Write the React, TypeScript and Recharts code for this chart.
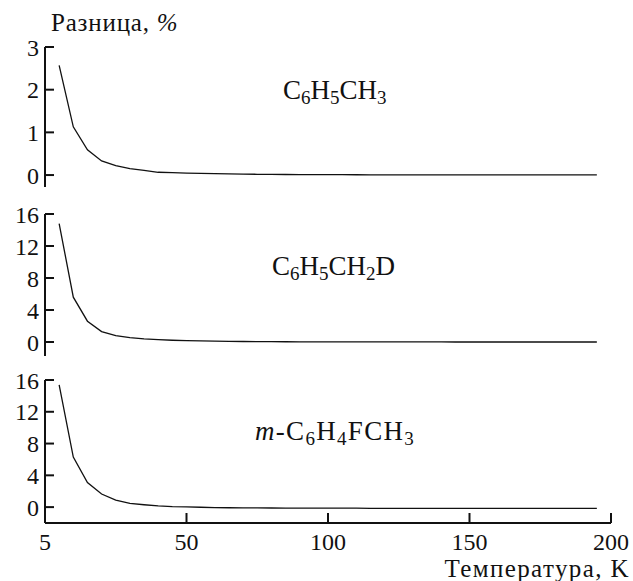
import { LineChart, Line, XAxis, YAxis } from 'recharts';

// temperature grid, K
const temps = [
  5, 10, 15, 20, 25, 30, 35, 40, 45, 50, 55, 60, 65, 70, 75, 80, 85, 90, 95, 100,
  105, 110, 115, 120, 125, 130, 135, 140, 145, 150, 155, 160, 165, 170, 175, 180, 185, 190, 195,
];

// difference, %
const tolueneDiff = [
  2.57, 1.13, 0.59, 0.33, 0.22, 0.15, 0.11, 0.065, 0.055, 0.045, 0.038, 0.032, 0.027, 0.022, 0.018, 0.015,
  0.013, 0.011, 0.01, 0.009, 0.008, 0.007, 0.006, 0.006, 0.005, 0.005, 0.004, 0.004, 0.004, 0.003, 0.003,
  0.003, 0.003, 0.002, 0.002, 0.002, 0.002, 0.002, 0.002,
];
const toluene1dDiff = [
  14.8, 5.6, 2.6, 1.3, 0.8, 0.55, 0.4, 0.3, 0.22, 0.17, 0.13, 0.1, 0.08, 0.06, 0.05, 0.04, 0.03, 0.02,
  0.015, 0.01, 0.01, 0.008, 0.007, 0.006, 0.005, 0.005, 0.004, 0.004, 0.003, 0.003, 0.003, 0.002, 0.002,
  0.002, 0.002, 0.001, 0.001, 0.001, 0.001,
];
const fluorotolueneDiff = [
  15.4, 6.3, 3.1, 1.65, 0.88, 0.46, 0.3, 0.15, 0.07, 0.03, -0.02, -0.06, -0.08, -0.09, -0.1, -0.11, -0.12,
  -0.13, -0.13, -0.14, -0.14, -0.14, -0.15, -0.15, -0.15, -0.15, -0.15, -0.16, -0.16, -0.16, -0.16, -0.16,
  -0.16, -0.16, -0.17, -0.17, -0.17, -0.17, -0.17,
];

const smallTicks = [0, 1, 2, 3];
const bigTicks = [0, 4, 8, 12, 16];
const tempTicks = [0, 50, 100, 150, 200];

const FONT = "'Liberation Serif', 'Times New Roman', Times, serif";
const INK = '#111';

const toRows = (vals: number[]) => temps.map((t, i) => ({ t, v: vals[i] }));

const tickStyle = { fill: INK, fontSize: 24, fontFamily: FONT };

type PanelProps = {
  values: number[];
  domain: [number, number];
  ticks: number[];
  top: number;
  height: number;
  margin: { top: number; right: number; bottom: number; left: number };
  showX?: boolean;
};

function Panel({ values, domain, ticks, top, height, margin, showX }: PanelProps) {
  return (
    <div style={{ position: 'absolute', left: 0, top }}>
      <LineChart
        width={633}
        height={height}
        data={toRows(values)}
        margin={margin}
        style={{ fontFamily: FONT, overflow: 'visible' }}
      >
        <XAxis
          dataKey="t"
          type="number"
          domain={[0, 200]}
          ticks={tempTicks}
          interval={0}
          hide={!showX}
          height={40}
          axisLine={{ stroke: INK, strokeWidth: 2 }}
          tickLine={{ stroke: INK, strokeWidth: 2 }}
          tickSize={-10}
          tickMargin={20}
          tick={tickStyle}
          tickFormatter={(v: number) => (v === 0 ? '5' : String(v))}
        />
        <YAxis
          type="number"
          domain={domain}
          ticks={ticks}
          interval={0}
          width={45}
          axisLine={{ stroke: INK, strokeWidth: 2 }}
          tickLine={{ stroke: INK, strokeWidth: 2 }}
          tickSize={-9}
          tickMargin={15}
          tick={tickStyle}
          allowDataOverflow
        />
        <Line
          type="linear"
          dataKey="v"
          stroke={INK}
          strokeWidth={1.3}
          dot={false}
          isAnimationActive={false}
        />
      </LineChart>
    </div>
  );
}

const SUB = 19;
const DROP = 5;

export default function App() {
  return (
    <div style={{ position: 'absolute', left: 0, top: 0, width: 633, height: 581, background: '#fff' }}>
      <Panel
        values={tolueneDiff}
        domain={[-0.28, 3]}
        ticks={smallTicks}
        top={0}
        height={190}
        margin={{ top: 47, right: 22, bottom: 3, left: 0 }}
      />
      <Panel
        values={toluene1dDiff}
        domain={[-1.75, 16]}
        ticks={bigTicks}
        top={190}
        height={170}
        margin={{ top: 24, right: 22, bottom: 4, left: 0 }}
      />
      <Panel
        values={fluorotolueneDiff}
        domain={[-2, 16]}
        ticks={bigTicks}
        top={360}
        height={221}
        margin={{ top: 20, right: 22, bottom: 18, left: 0 }}
        showX
      />
      <svg
        width={633}
        height={581}
        style={{ position: 'absolute', left: 0, top: 0, pointerEvents: 'none', fontFamily: FONT }}
        fill={INK}
      >
        <text x={51} y={31} fontSize={25} letterSpacing={0.8}>
          Разница, <tspan fontStyle="italic">%</tspan>
        </text>
        <text x={283} y={99} fontSize={27}>
          C<tspan fontSize={SUB} dy={DROP}>6</tspan>
          <tspan dy={-DROP}>H</tspan>
          <tspan fontSize={SUB} dy={DROP}>5</tspan>
          <tspan dy={-DROP}>CH</tspan>
          <tspan fontSize={SUB} dy={DROP}>3</tspan>
        </text>
        <text x={272} y={275} fontSize={27}>
          C<tspan fontSize={SUB} dy={DROP}>6</tspan>
          <tspan dy={-DROP}>H</tspan>
          <tspan fontSize={SUB} dy={DROP}>5</tspan>
          <tspan dy={-DROP}>CH</tspan>
          <tspan fontSize={SUB} dy={DROP}>2</tspan>
          <tspan dy={-DROP}>D</tspan>
        </text>
        <text x={255} y={440} fontSize={27} letterSpacing={1.3}>
          <tspan fontStyle="italic">m</tspan>
          <tspan>-C</tspan>
          <tspan fontSize={SUB} dy={DROP}>6</tspan>
          <tspan dy={-DROP}>H</tspan>
          <tspan fontSize={SUB} dy={DROP}>4</tspan>
          <tspan dy={-DROP}>FCH</tspan>
          <tspan fontSize={SUB} dy={DROP}>3</tspan>
        </text>
        <text x={630} y={577} fontSize={25} letterSpacing={1.4} textAnchor="end">
          Температура, K
        </text>
      </svg>
    </div>
  );
}
